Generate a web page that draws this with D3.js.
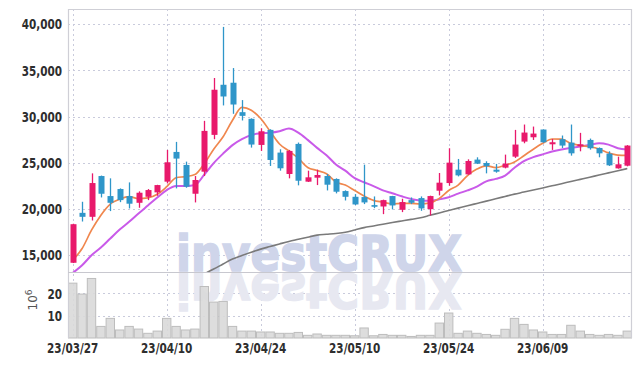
<!DOCTYPE html>
<html>
<head>
<meta charset="utf-8">
<script src="https://cdn.jsdelivr.net/npm/d3@7"></script>
<style>
  body { margin: 0; background: #fff; }
  .axis text { font-family: "DejaVu Sans Condensed", "DejaVu Sans", sans-serif; font-weight: bold; font-size: 14.5px; fill: #2e2e2e; }
  .grid line { stroke: #c9cbdc; stroke-dasharray: 2,3; }
</style>
</head>
<body>
<svg id="chart" width="642" height="366"></svg>
<script>
// trading days
var dates = ["23/03/27","23/03/28","23/03/29","23/03/30","23/03/31",
  "23/04/03","23/04/04","23/04/05","23/04/06","23/04/07",
  "23/04/10","23/04/11","23/04/12","23/04/13","23/04/14",
  "23/04/17","23/04/18","23/04/19","23/04/20","23/04/21",
  "23/04/24","23/04/25","23/04/26","23/04/27","23/04/28",
  "23/05/02","23/05/03","23/05/04","23/05/08","23/05/09",
  "23/05/10","23/05/11","23/05/12","23/05/15","23/05/16",
  "23/05/17","23/05/18","23/05/19","23/05/22","23/05/23",
  "23/05/24","23/05/25","23/05/26","23/05/30","23/05/31",
  "23/06/01","23/06/02","23/06/05","23/06/07","23/06/08",
  "23/06/09","23/06/12","23/06/13","23/06/14","23/06/15",
  "23/06/16","23/06/19","23/06/20","23/06/21","23/06/22"];

var openP  = [14150,19560,19130,23550,21380,22140,21380,20650,21300,21780,
  22940,26160,24750,21630,24020,28010,33440,33660,30470,29750,
  26920,28550,26090,23770,27030,22940,23370,23550,23230,21920,
  21300,21270,20400,20250,21380,19890,20940,21160,19960,21960,
  22790,24240,23730,25330,24960,24240,24460,25650,27280,27750,
  28590,26990,27540,27170,26780,27460,26590,25980,24380,24670];
var highP  = [18380,20760,23840,23600,23300,22210,22860,21890,22140,22600,
  26380,27250,25110,23550,29530,34170,39710,35250,31780,29800,
  28730,28620,26450,26380,27180,24130,24240,23770,23300,22000,
  21590,24780,21340,20990,21400,21090,21230,21340,21420,23880,
  26560,25400,25360,25580,25150,24860,25870,28550,29130,28910,
  28590,27570,27940,29130,28230,27610,26650,26230,25650,26900];
var lowP   = [14120,18620,18730,21230,19750,20720,20040,20110,20940,21410,
  22750,22210,22280,20690,23550,27540,31200,30290,29570,26630,
  26270,24640,24130,23300,22540,22900,22570,21990,21670,20900,
  20400,20510,20070,19420,19930,19640,20510,19780,19280,21450,
  22500,23510,23700,24850,23840,23910,24380,25510,27100,27460,
  27150,26380,26590,25760,26230,26410,25580,24640,24350,24600];
var closeP = [18330,19130,22790,21630,20650,20940,20550,21740,22030,22570,
  25040,25440,22390,23120,28440,32900,32170,31300,30070,26960,
  28400,25290,24390,26270,23040,23410,23660,22610,21850,21300,
  20470,20690,20220,20940,20360,20730,20650,20040,21380,22830,
  25000,23620,25180,24890,24620,24020,24890,26960,28260,28150,
  27210,27210,26850,26010,26990,26560,26010,24710,24820,26850];

// volume, millions
var volume = [24.6,19.7,26.7,5.2,8.8,3.6,5.2,4.0,2.1,3.1,
  8.8,5.2,3.6,4.0,23.1,16.1,16.4,5.2,3.1,3.1,
  2.7,2.7,2.1,2.1,2.5,1.2,1.8,1.2,1.2,1.2,
  1.0,4.5,1.0,1.6,1.2,1.2,0.7,1.2,1.2,6.7,
  11.2,2.1,3.1,2.1,1.6,1.2,3.9,8.8,6.1,3.6,
  2.7,1.6,1.6,5.7,3.1,1.6,1.2,1.6,1.2,3.1];

// moving averages
var ma5 = [14420,15690,17680,19310,20510,21030,21310,21100,21180,21570,
  22390,23360,23490,23710,24890,26460,27800,29590,30980,30680,
  29780,28400,27020,26260,25480,24480,24150,23800,22910,22570,
  21980,21380,20910,20720,20540,20590,20580,20540,20630,21130,
  21980,22570,23600,24300,24660,24470,24720,25080,25750,26460,
  27090,27560,27540,27090,26850,26720,26480,26060,25820,25790];
var ma20 = [13050,13880,14960,15800,16780,17750,18590,19490,20360,21230,
  22030,22460,22470,22570,23700,24950,25980,26900,27540,28000,
  28170,28240,28410,28700,28250,27470,26600,25800,24800,24130,
  23320,22880,22460,21990,21680,21350,21060,20900,20870,21020,
  21250,21640,21990,22400,22970,23240,23590,24450,25170,25600,
  25900,26200,26430,26600,26760,26930,27100,26950,26560,26420];
var maLong = [null,null,null,null,null,null,null,null,null,null,
  null,null,null,null,12950,13470,14020,14560,14940,15300,
  15630,15910,16190,16460,16690,16920,17150,17240,17330,17450,
  17700,17960,18140,18330,18510,18680,18850,19030,19290,19550,
  19810,20070,20330,20580,20830,21090,21340,21590,21810,22040,
  22260,22490,22720,22960,23190,23420,23660,23890,24120,24360];

var priceTicks = [15000,20000,25000,30000,35000,40000];
var volTicks = [10,20];
var dateTicks = ["23/03/27","23/04/10","23/04/24","23/05/10","23/05/24","23/06/09"];

var padL = 68, padR = 632, padT = 9, padMid = 272, padB = 338;

var svg = d3.select("#chart");

var x = d3.scaleBand().domain(dates).range([padL, padR]);
var y = d3.scaleLinear().domain([13150, 41650]).range([padMid, padT]);
var yVol = d3.scaleLinear().domain([0, 29.6]).range([padB, padMid]);
function cx(d) { return x(d) + x.bandwidth() / 2; }

var defs = svg.append("defs");
defs.append("clipPath").attr("id", "clipPrice")
  .append("rect").attr("x", padL).attr("y", padT).attr("width", padR - padL).attr("height", padMid - padT);
defs.append("clipPath").attr("id", "clipVol")
  .append("rect").attr("x", padL).attr("y", padMid).attr("width", padR - padL).attr("height", padB - padMid);

/* ------ grid ------ */
var grid = svg.append("g").attr("class", "grid");
grid.selectAll(".gx").data(dateTicks).enter().append("line")
  .attr("x1", function(d) { return Math.round(cx(d)) + 0.5; })
  .attr("x2", function(d) { return Math.round(cx(d)) + 0.5; })
  .attr("y1", padT).attr("y2", padB);
grid.selectAll(".gy").data(priceTicks).enter().append("line")
  .attr("x1", padL).attr("x2", padR)
  .attr("y1", function(d) { return Math.round(y(d)) + 0.5; })
  .attr("y2", function(d) { return Math.round(y(d)) + 0.5; });
grid.selectAll(".gv").data(volTicks).enter().append("line")
  .attr("x1", padL).attr("x2", padR)
  .attr("y1", function(d) { return Math.round(yVol(d)) + 0.5; })
  .attr("y2", function(d) { return Math.round(yVol(d)) + 0.5; });

/* ------ watermark + its mirror in the volume pane ------ */
function watermark(g, color) {
  return g.append("text")
    .attr("x", 176).attr("y", 271)
    .attr("textLength", 286).attr("lengthAdjust", "spacingAndGlyphs")
    .style("font-family", "DejaVu Sans, sans-serif")
    .style("font-weight", "bold").style("font-size", "50px")
    .style("fill", color)
    .style("stroke", color).style("stroke-width", 1.6)
    .text("investCRUX");
}
watermark(svg.append("g").attr("clip-path", "url(#clipPrice)"), "#cfd5ea");
watermark(svg.append("g").attr("clip-path", "url(#clipVol)"), "#e7e8f1")
  .attr("transform", "translate(0,544) scale(1,-1)");

/* ------ volume ------ */
svg.append("g").selectAll("rect").data(volume).enter().append("rect")
  .attr("x", function(d, i) { return x(dates[i]) + 0.5; })
  .attr("y", function(d) { return yVol(d); })
  .attr("width", x.bandwidth() - 1)
  .attr("height", function(d) { return padB - yVol(d); })
  .style("fill", "#d9d9d9")
  .style("fill-opacity", 0.9)
  .style("stroke", "#bdbdbd")
  .style("stroke-width", 1);

/* ------ moving averages ------ */
var lines = svg.append("g").attr("clip-path", "url(#clipPrice)");
function maLine(arr) {
  return d3.line()
    .defined(function(d) { return d != null; })
    .x(function(d, i) { return cx(dates[i]); })
    .y(function(d) { return y(d); })
    .curve(d3.curveMonotoneX)(arr);
}
lines.append("path").attr("d", maLine(maLong))
  .style("fill", "none").style("stroke", "#7a7a7a").style("stroke-width", 1.6);

/* ------ candles ------ */
var candle = svg.append("g").attr("clip-path", "url(#clipPrice)")
  .selectAll("g").data(dates).enter().append("g");

function candleColor(i) { return closeP[i] >= openP[i] ? "#e8196b" : "#2f96c9"; }

candle.append("line")
  .attr("x1", function(d) { return Math.round(cx(d)) + 0.5; })
  .attr("x2", function(d) { return Math.round(cx(d)) + 0.5; })
  .attr("y1", function(d, i) { return y(highP[i]); })
  .attr("y2", function(d, i) { return y(lowP[i]); })
  .style("stroke", function(d, i) { return candleColor(i); })
  .style("stroke-width", 1.3);

candle.append("rect")
  .attr("x", function(d) { return Math.round(cx(d)) + 0.5 - 3; })
  .attr("y", function(d, i) { return y(Math.max(openP[i], closeP[i])); })
  .attr("width", 6)
  .attr("height", function(d, i) { return Math.max(1.5, Math.abs(y(openP[i]) - y(closeP[i]))); })
  .style("fill", function(d, i) { return candleColor(i); });

lines.append("path").attr("d", maLine(ma20))
  .style("fill", "none").style("stroke", "#c95ae9").style("stroke-width", 2);
lines.append("path").attr("d", maLine(ma5))
  .style("fill", "none").style("stroke", "#f0874e").style("stroke-width", 1.7);

/* ------ frame ------ */
svg.append("path")
  .attr("d", "M" + (padL + 0.5) + "," + padB + "V" + (padT + 0.5) + "H" + (padR - 0.5) + "V" + padB)
  .style("fill", "none").style("stroke", "#cfcfd6").style("stroke-width", 1.2);
svg.append("line")
  .attr("x1", padL).attr("x2", padR).attr("y1", padMid + 0.5).attr("y2", padMid + 0.5)
  .style("stroke", "#c8c8cf").style("stroke-width", 1.2);

/* ------ axes ------ */
svg.append("g").attr("class", "axis")
  .attr("transform", "translate(" + padL + ",0)")
  .call(d3.axisLeft(y).tickValues(priceTicks).tickSize(0).tickPadding(6).tickFormat(d3.format(",")))
  .call(function(g) { g.select(".domain").remove(); });

svg.append("g").attr("class", "axis")
  .attr("transform", "translate(" + padL + ",0)")
  .call(d3.axisLeft(yVol).tickValues(volTicks).tickSize(0).tickPadding(6))
  .call(function(g) { g.select(".domain").remove(); });

svg.append("g").attr("class", "axis")
  .attr("transform", "translate(0," + padB + ")")
  .call(d3.axisBottom(x).tickValues(dateTicks).tickSize(0).tickPadding(5))
  .call(function(g) { g.select(".domain").remove(); });

// squeeze tick labels to the narrow look of the original
svg.selectAll(".axis text").each(function() {
  var w = this.getComputedTextLength();
  d3.select(this).attr("textLength", w * 0.8).attr("lengthAdjust", "spacingAndGlyphs");
});

var unit = svg.append("text")
  .attr("transform", "translate(37,300) rotate(-90)")
  .attr("text-anchor", "middle")
  .style("font-family", "DejaVu Sans, sans-serif")
  .style("font-size", "12px")
  .style("fill", "#555");
unit.append("tspan").text("10");
unit.append("tspan").attr("dy", -5).style("font-size", "9px").text("6");
</script>
</body>
</html>
